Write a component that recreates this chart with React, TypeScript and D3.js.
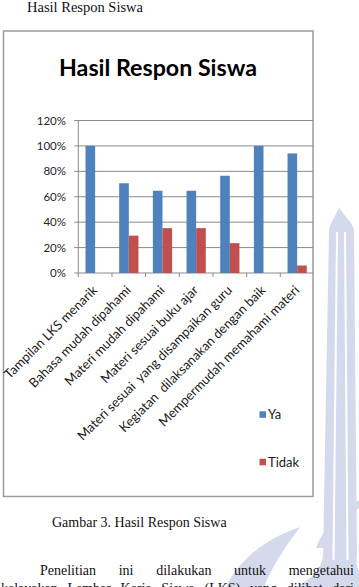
import React from "react";
import * as d3 from "d3";

// Survey categories and the share of students answering each option (%)
const categories = [
  "Tampilan LKS menarik",
  "Bahasa mudah dipahami",
  "Materi mudah dipahami",
  "Materi sesuai buku ajar",
  "Materi sesuai  yang disampaikan guru",
  "Kegiatan  dilaksanakan dengan baik",
  "Mempermudah memahami materi",
];
const yaValues = [100, 70.6, 64.7, 64.7, 76.5, 100, 94.1];
const tidakValues = [0, 29.4, 35.3, 35.3, 23.5, 0, 5.9];
const seriesNames = ["Ya", "Tidak"];
const seriesColors = ["#4F81BD", "#C0504D"];
const yTicks = [0, 20, 40, 60, 80, 100, 120];

const pageHeading = "Hasil Respon Siswa";
const chartTitle = "Hasil Respon Siswa";
const caption = "Gambar 3. Hasil Respon Siswa";
const paragraphLines = [
  "Penelitian ini dilakukan untuk mengetahui",
  "kelayakan Lembar Kerja Siswa (LKS) yang dilihat dari",
];

const W = 359;
const H = 587;
const SANS = "Lato, 'Open Sans', sans-serif";
const SERIF = "'Liberation Serif', 'DejaVu Serif', serif";

let measureCtx: CanvasRenderingContext2D | null = null;
function textWidth(text: string, font: string) {
  if (!measureCtx) measureCtx = document.createElement("canvas").getContext("2d");
  if (!measureCtx) return text.length * 6;
  measureCtx.font = font;
  return measureCtx.measureText(text).width;
}

// Spread words across a line to imitate justified body text
function justify(line: string, x0: number, x1: number, font: string) {
  const words = line.split(" ");
  const widths = words.map((w) => textWidth(w, font));
  const gap = (x1 - x0 - d3.sum(widths)) / (words.length - 1);
  let x = x0;
  return words.map((w, i) => {
    const pos = x;
    x += widths[i] + gap;
    return { word: w, x: pos };
  });
}

export default function App() {
  const plotLeft = 78.3;
  const plotRight = 314;
  const boxRight = 313;

  const x = d3.scaleBand<string>().domain(categories).range([plotLeft, plotRight]);
  const xs = d3
    .scaleBand<string>()
    .domain(seriesNames)
    .range([0, x.bandwidth()])
    .paddingInner(0)
    .paddingOuter(0.75);
  const y = d3.scaleLinear().domain([0, 120]).range([273, 120.5]);
  const fmt = (v: number) => `${v}%`;

  const series = [yaValues, tidakValues];
  const bodyFont = `14px ${SERIF}`;

  const tickXs = d3.range(categories.length + 1).map((i) => plotLeft + i * x.step());

  return (
    <svg
      width={W}
      height={H}
      style={{ position: "absolute", left: 0, top: 0, background: "#fff" }}
    >
      {/* faint page watermark */}
      <g fill="#d4daec">
        <path d="M339,207 C337,214 331,221 329,230 L323,556 C321,570 311,580 295,587 L359,587 L359,572 C357,568 356,563 357,556 L354,230 C352,221 342,214 339,207 Z" />
        <path d="M226,587 C238,562 262,540 300,527 C286,546 272,566 264,587 Z" />
        <path d="M359,500 C340,512 322,530 316,548 L326,548 C334,530 346,516 359,508 Z" />
      </g>
      <g stroke="#ffffff" strokeWidth={2}>
        <line x1={337} y1={232} x2={333.5} y2={560} />
        <line x1={345} y1={232} x2={347.5} y2={560} />
      </g>

      {/* page heading */}
      <text x={27} y={12} fontFamily={SERIF} fontSize={14.5} fill="#111">
        {pageHeading}
      </text>

      {/* chart area */}
      <rect x={3.5} y={31} width={boxRight - 3.5} height={465.5} fill="#fff" stroke="#9a9a9a" strokeWidth={1.5} />

      <text
        x={158}
        y={76}
        textAnchor="middle"
        fontFamily={SANS}
        fontWeight={700}
        fontSize={22}
        textLength={198}
        lengthAdjust="spacingAndGlyphs"
        fill="#000"
      >
        {chartTitle}
      </text>

      {/* gridlines and axes */}
      <g stroke="#8a8a8a" strokeWidth={1}>
        {yTicks.map((t) => (
          <line key={t} x1={plotLeft - 4} x2={boxRight} y1={y(t)} y2={y(t)} />
        ))}
        <line x1={plotLeft} x2={plotLeft} y1={y(120)} y2={y(0)} />
        {tickXs
          .filter((tx) => tx < boxRight)
          .map((tx, i) => (
            <line key={i} x1={tx} x2={tx} y1={y(0)} y2={y(0) + 4} />
          ))}
      </g>

      {/* y-axis labels */}
      <g fontFamily={SANS} fontSize={11.5} fill="#262626" textAnchor="end">
        {yTicks.map((t) => (
          <text key={t} x={66} y={y(t) + 4}>
            {fmt(t)}
          </text>
        ))}
      </g>

      {/* bars */}
      {series.map((vals, si) => (
        <g key={seriesNames[si]} fill={seriesColors[si]}>
          {categories.map((c, i) => {
            const v = vals[i];
            if (v <= 0) return null;
            return (
              <rect
                key={c}
                x={(x(c) as number) + (xs(seriesNames[si]) as number)}
                y={y(v)}
                width={xs.bandwidth()}
                height={y(0) - y(v)}
              />
            );
          })}
        </g>
      ))}

      {/* category labels */}
      <g fontFamily={SANS} fontSize={13} fill="#1a1a1a" textAnchor="end">
        {categories.map((c) => {
          const cx = (x(c) as number) + x.bandwidth() / 2 + 3;
          const cy = 291;
          return (
            <text
              key={c}
              x={cx}
              y={cy}
              transform={`rotate(-45 ${cx} ${cy})`}
              style={{ whiteSpace: "pre" }}
            >
              {c}
            </text>
          );
        })}
      </g>

      {/* legend */}
      <g fontFamily={SANS} fontSize={13} fill="#1a1a1a">
        {seriesNames.map((s, i) => {
          const cy = i === 0 ? 414.5 : 462;
          return (
            <g key={s}>
              <rect x={259.5} y={cy - 3.2} width={6.5} height={6.5} fill={seriesColors[i]} />
              <text x={268} y={cy + 4.6}>
                {s}
              </text>
            </g>
          );
        })}
      </g>

      {/* caption */}
      <text x={52} y={527} fontFamily={SERIF} fontSize={14} fill="#111">
        {caption}
      </text>

      {/* body text */}
      <g fontFamily={SERIF} fontSize={14} fill="#111">
        {justify(paragraphLines[0], 40, 354, bodyFont).map((w, i) => (
          <text key={`a${i}`} x={w.x} y={575}>
            {w.word}
          </text>
        ))}
        {justify(paragraphLines[1], 1, 354, bodyFont).map((w, i) => (
          <text key={`b${i}`} x={w.x} y={593}>
            {w.word}
          </text>
        ))}
      </g>
    </svg>
  );
}
